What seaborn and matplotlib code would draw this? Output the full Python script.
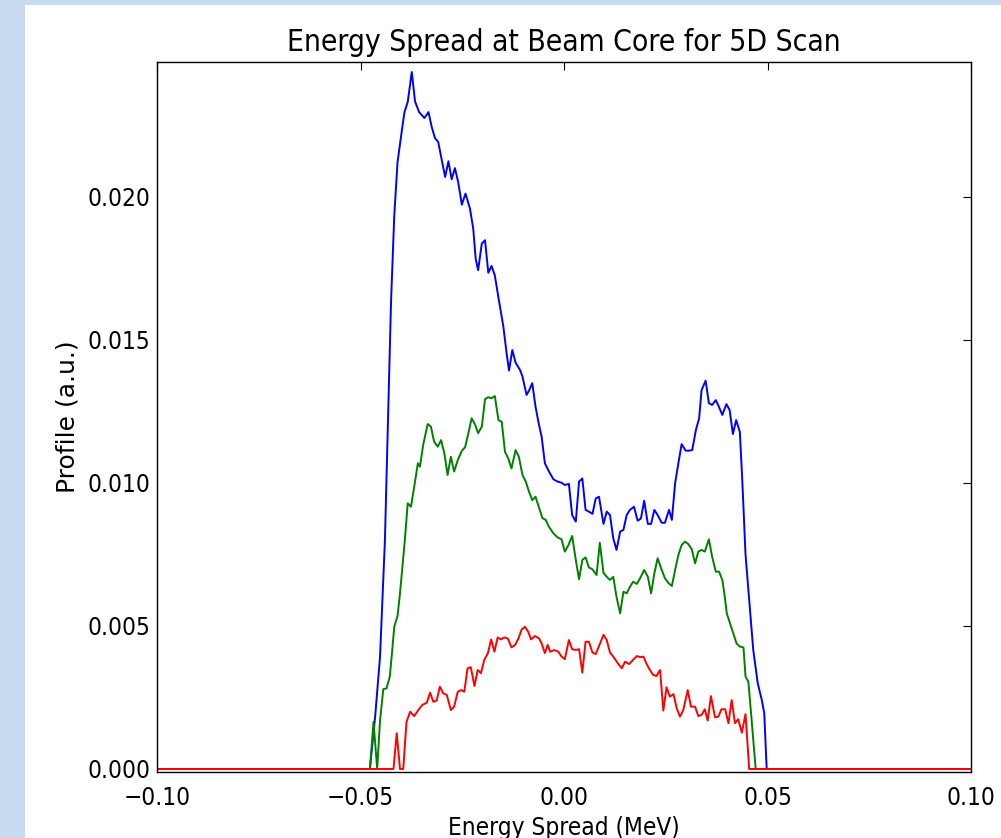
import matplotlib
matplotlib.use('Agg')
import matplotlib.pyplot as plt
import seaborn as sns
from matplotlib.patches import Rectangle
from matplotlib.ticker import FuncFormatter

# Energy spread (MeV) and profile values, one list per curve
blue_x = [-0.100, -0.0477, -0.0464, -0.0452, -0.0440, -0.0425, -0.0417, -0.0409, -0.0400,
          -0.0392, -0.0384, -0.0374, -0.0366, -0.0356, -0.0343, -0.0333, -0.0325, -0.0317,
          -0.0309, -0.0301, -0.0292, -0.0284, -0.0276, -0.0268, -0.0260, -0.0251, -0.0242,
          -0.0231, -0.0223, -0.0217, -0.0211, -0.0202, -0.0194, -0.0186, -0.0178, -0.0170,
          -0.0160, -0.0149, -0.0141, -0.0135, -0.0127, -0.0119, -0.0108, -0.0102, -0.0092,
          -0.0086, -0.0078, -0.0070, -0.0063, -0.0055, -0.0047, -0.0037, -0.0026, -0.0016,
          -0.0006, 0.0002, 0.0012, 0.0020, 0.0029, 0.0037, 0.0045, 0.0053, 0.0061, 0.0070,
          0.0078, 0.0086, 0.0097, 0.0105, 0.0113, 0.0121, 0.0129, 0.0138, 0.0146, 0.0154,
          0.0162, 0.0172, 0.0181, 0.0189, 0.0197, 0.0206, 0.0214, 0.0222, 0.0230, 0.0240,
          0.0248, 0.0258, 0.0265, 0.0273, 0.0281, 0.0289, 0.0299, 0.0307, 0.0315, 0.0324,
          0.0332, 0.0338, 0.0348, 0.0356, 0.0364, 0.0373, 0.0381, 0.0389, 0.0399, 0.0407,
          0.0415, 0.0423, 0.0432, 0.0438, 0.0446, 0.0457, 0.0465, 0.0476, 0.0486, 0.0492,
          0.0498, 0.100]
blue_y = [0.0, 0.0, 0.00183, 0.00393, 0.0080, 0.01633, 0.01936, 0.02122, 0.02216,
          0.02297, 0.02332, 0.02437, 0.02334, 0.02297, 0.02276, 0.02297, 0.02245, 0.02206,
          0.02192, 0.02134, 0.0207, 0.02125, 0.02062, 0.02101, 0.02052, 0.01973, 0.02012,
          0.01959, 0.01889, 0.01784, 0.01744, 0.01837, 0.01849, 0.01735, 0.01759, 0.01726,
          0.01639, 0.01547, 0.01453, 0.01393, 0.01465, 0.01421, 0.01395, 0.01372, 0.01308,
          0.01323, 0.01349, 0.01267, 0.01214, 0.01162, 0.01069, 0.0104, 0.01013, 0.01005,
          0.01001, 0.00993, 0.00997, 0.00888, 0.00865, 0.01005, 0.01016, 0.00906, 0.0090, 0.00892,
          0.00946, 0.00952, 0.00857, 0.0090, 0.00888, 0.00807, 0.00766, 0.0083, 0.00836, 0.00888,
          0.00906, 0.00917, 0.00868, 0.00876, 0.00938, 0.00857, 0.00857, 0.00906, 0.00888, 0.00861,
          0.00861, 0.00906, 0.00871, 0.00999, 0.01069, 0.01136, 0.01113, 0.01113, 0.01115, 0.01185,
          0.01226, 0.01325, 0.01358, 0.01279, 0.01273, 0.0129, 0.01265, 0.01238, 0.01276, 0.01255,
          0.01171, 0.0122, 0.01179, 0.0101, 0.0075, 0.00556, 0.00416, 0.0030, 0.00241, 0.00195,
          0.0, 0.0]

green_x = [-0.100, -0.0477, -0.0468, -0.0459, -0.0452, -0.0444, -0.0436, -0.0428, -0.0422,
           -0.0417, -0.0409, -0.0403, -0.0397, -0.0391, -0.0384, -0.0376, -0.0368, -0.0359,
           -0.0354, -0.0346, -0.0335, -0.0327, -0.0319, -0.0310, -0.0302, -0.0294, -0.0286,
           -0.0278, -0.0270, -0.0261, -0.0251, -0.0243, -0.0235, -0.0227, -0.0219, -0.0211,
           -0.0202, -0.0194, -0.0186, -0.0178, -0.0170, -0.0161, -0.0153, -0.0145, -0.0137,
           -0.0129, -0.0119, -0.0111, -0.0102, -0.0094, -0.0086, -0.0078, -0.0070, -0.0061,
           -0.0053, -0.0045, -0.0037, -0.0026, -0.0016, -0.0006, 0.0002, 0.0011, 0.0020,
           0.0029, 0.0037, 0.0045, 0.0053, 0.0061, 0.0070, 0.0080, 0.0088, 0.0097, 0.0105,
           0.0113, 0.0121, 0.0129, 0.0138, 0.0146, 0.0154, 0.0162, 0.0170, 0.0179, 0.0187,
           0.0197, 0.0206, 0.0214, 0.0222, 0.0230, 0.0240, 0.0248, 0.0256, 0.0265, 0.0273,
           0.0281, 0.0289, 0.0297, 0.0305, 0.0314, 0.0322, 0.0330, 0.0338, 0.0346, 0.0356,
           0.0364, 0.0373, 0.0381, 0.0389, 0.0394, 0.0400, 0.0408, 0.0416, 0.0424, 0.0432,
           0.0441, 0.0446, 0.0453, 0.0461, 0.0471, 0.100]
green_y = [0.0, 0.0, 0.00165, 0.0, 0.0017, 0.00279, 0.00282, 0.00323, 0.00416,
           0.00498, 0.00535, 0.00614, 0.00707, 0.00801, 0.00929, 0.00917, 0.00987, 0.01069,
           0.01057, 0.01133, 0.01206, 0.01197, 0.01144, 0.01127, 0.0115, 0.01104, 0.01028,
           0.01092, 0.0104, 0.0108, 0.01113, 0.01125, 0.01174, 0.01226, 0.01206, 0.01174,
           0.01197, 0.01293, 0.0130, 0.01296, 0.01304, 0.0122, 0.01214, 0.01109, 0.01086,
           0.01051, 0.01115, 0.01092, 0.01028, 0.01005, 0.0097, 0.0094, 0.00952, 0.00912,
           0.00877, 0.00871, 0.00847, 0.00824, 0.0081, 0.00803, 0.0076, 0.00783, 0.00815,
           0.00731, 0.00663, 0.00731, 0.0074, 0.00705, 0.00698, 0.00678, 0.00791, 0.00686, 0.00672,
           0.00661, 0.00672, 0.00602, 0.00544, 0.0062, 0.00614, 0.00637, 0.00655, 0.00647, 0.00667,
           0.00696, 0.00672, 0.00614, 0.00684, 0.00737, 0.00696, 0.00667, 0.00651, 0.0064, 0.00696,
           0.00748, 0.00783, 0.00795, 0.00787, 0.00768, 0.00719, 0.0076, 0.00766, 0.0076, 0.00803,
           0.00742, 0.0069, 0.0069, 0.00661, 0.00614, 0.00544, 0.00509, 0.00474, 0.00439, 0.00428,
           0.00425, 0.00323, 0.00305, 0.00171, 0.0, 0.0]

red_x = [-0.100, -0.0419, -0.0411, -0.0403, -0.0395, -0.0387, -0.0378, -0.0368, -0.0358,
         -0.0348, -0.0337, -0.0329, -0.0321, -0.0313, -0.0305, -0.0297, -0.0288, -0.0278,
         -0.0270, -0.0261, -0.0253, -0.0245, -0.0237, -0.0229, -0.0220, -0.0212, -0.0204,
         -0.0196, -0.0187, -0.0179, -0.0171, -0.0163, -0.0155, -0.0147, -0.0138, -0.0129,
         -0.0120, -0.0112, -0.0104, -0.0096, -0.0088, -0.0081, -0.0071, -0.0061, -0.0055,
         -0.0047, -0.0040, -0.0034, -0.0024, -0.0014, -0.0006, 0.0002, 0.0012, 0.0020,
         0.0029, 0.0037, 0.0045, 0.0053, 0.0061, 0.0070, 0.0078, 0.0086, 0.0097, 0.0105,
         0.0113, 0.0121, 0.0132, 0.0142, 0.0150, 0.0160, 0.0168, 0.0179, 0.0187, 0.0195,
         0.0203, 0.0211, 0.0219, 0.0227, 0.0236, 0.0244, 0.0252, 0.0260, 0.0269, 0.0277,
         0.0285, 0.0293, 0.0304, 0.0312, 0.0322, 0.0330, 0.0338, 0.0346, 0.0353, 0.0361,
         0.0371, 0.0379, 0.0387, 0.0396, 0.0404, 0.0412, 0.0420, 0.0428, 0.0437, 0.0446,
         0.0455, 0.100]
red_y = [0.0, 0.0, 0.00125, 0.0, 0.0, 0.00165, 0.0020, 0.00185, 0.00206,
         0.00224, 0.00232, 0.00267, 0.00235, 0.00239, 0.00288, 0.00265, 0.00259, 0.00206,
         0.00218, 0.0027, 0.00276, 0.0027, 0.00352, 0.00356, 0.0029, 0.00346, 0.00335,
         0.00381, 0.00405, 0.00453, 0.0041, 0.0046, 0.00453, 0.0046, 0.00456, 0.00425,
         0.00434, 0.00456, 0.00488, 0.00497, 0.0048, 0.00453, 0.00465, 0.00456, 0.00439,
         0.00405, 0.00434, 0.0041, 0.00416, 0.0041, 0.00393, 0.00384, 0.00451, 0.00419,
         0.00416, 0.00419, 0.00337, 0.00445, 0.00445, 0.00407, 0.00402, 0.0043, 0.00469, 0.00451,
         0.00407, 0.00393, 0.0037, 0.00352, 0.00375, 0.00367, 0.00379, 0.00395, 0.00391, 0.00393,
         0.00367, 0.00346, 0.00329, 0.00325, 0.00346, 0.00204, 0.00286, 0.00253, 0.00262, 0.00212,
         0.00183, 0.00206, 0.00276, 0.00218, 0.00218, 0.00185, 0.00189, 0.00209, 0.00169, 0.00255,
         0.00181, 0.00183, 0.00209, 0.00209, 0.0016, 0.00241, 0.0016, 0.00174, 0.00127, 0.00192,
         0.0, 0.0]

x_ticks = [-0.10, -0.05, 0.00, 0.05, 0.10]
y_ticks = [0.000, 0.005, 0.010, 0.015, 0.020]

sns.set_style('white')
plt.rcParams['font.family'] = ['DejaVu Sans']
# the screenshot is stretched a bit vertically, condensed glyphs get closer to that
plt.rcParams['font.stretch'] = 'condensed'
plt.rcParams['text.color'] = 'black'
plt.rcParams['axes.labelcolor'] = 'black'

fig = plt.figure(figsize=(10.01, 8.38), dpi=100)
fig.patch.set_facecolor('white')
# slide background strips round the screenshot
fig.patches.append(Rectangle((0, 0), 25 / 1001, 1, transform=fig.transFigure,
                             facecolor='#c9dbf0', edgecolor='none', zorder=0))
fig.patches.append(Rectangle((0, 1 - 5 / 838), 1, 5 / 838, transform=fig.transFigure,
                             facecolor='#c9dbf0', edgecolor='none', zorder=0))

ax = fig.add_axes([157 / 1001, 1 - 772 / 838, (971 - 157) / 1001, (772 - 62) / 838])

sns.lineplot(x=blue_x, y=blue_y, color='b', lw=1.4, estimator=None, ax=ax)
sns.lineplot(x=green_x, y=green_y, color='g', lw=1.4, estimator=None, ax=ax)
sns.lineplot(x=red_x, y=red_y, color='r', lw=1.4, estimator=None, ax=ax)

ax.set_xlim(-0.1, 0.1)
ax.set_ylim(-0.000105, 0.02472)
ax.set_xticks(x_ticks)
ax.set_yticks(y_ticks)
ax.xaxis.set_major_formatter(FuncFormatter(lambda v, p: f'{v:.2f}'.replace('-', '\u2212')))
ax.yaxis.set_major_formatter(FuncFormatter(lambda v, p: f'{v:.3f}'.replace('-', '\u2212')))
ax.tick_params(direction='in', length=6, width=0.8, top=True, right=True,
               labelsize=17.5, colors='black')
ax.tick_params(axis='y', pad=5)
ax.tick_params(axis='x', pad=10)
for s in ax.spines.values():
    s.set_color('black')
    s.set_linewidth(1.0)

ax.set_title('Energy Spread at Beam Core for 5D Scan', fontsize=21.5, pad=8, color='black')
ax.set_xlabel('Energy Spread (MeV)', fontsize=17.5)
ax.set_ylabel('Profile (a.u.)', fontsize=18, fontstretch='normal')
ax.xaxis.set_label_coords(0.5, (772 - 816) / 710)
ax.yaxis.set_label_coords((80 - 157) / 814, 0.5)

fig.savefig('out.png', dpi=100)
